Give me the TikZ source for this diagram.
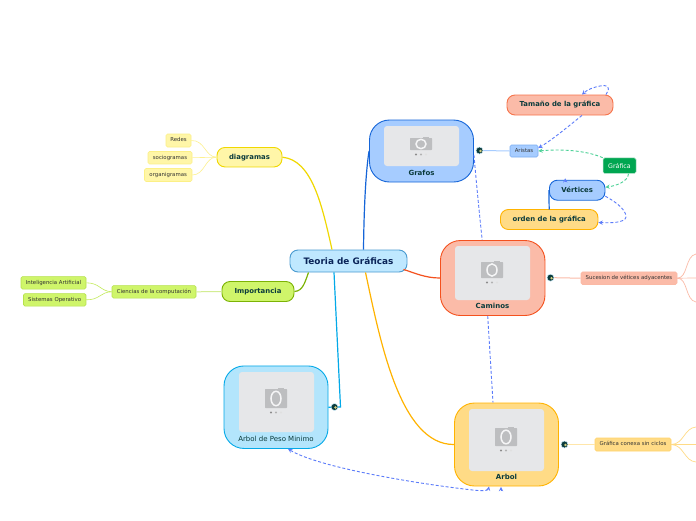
\documentclass[tikz,border=0pt]{standalone}
\usepackage{fontspec}
\setmainfont{DejaVu Sans}

\definecolor{inkdark}{HTML}{0B3B3C}
\definecolor{inknavy}{HTML}{0A2458}
\definecolor{cardgray}{HTML}{E6E7E9}
\definecolor{camgray}{HTML}{BDBEC0}
\definecolor{blueline}{HTML}{1565D8}
\definecolor{bluefill}{HTML}{A6CCFF}
\definecolor{redline}{HTML}{F4511E}
\definecolor{redfill}{HTML}{FBBBA8}
\definecolor{amberline}{HTML}{FFB300}
\definecolor{amberfill}{HTML}{FFDB86}
\definecolor{cyanline}{HTML}{03A9E8}
\definecolor{cyanfill}{HTML}{B3E5FC}
\definecolor{yelline}{HTML}{F0D800}
\definecolor{yelfill}{HTML}{FFF6A8}
\definecolor{limeline}{HTML}{7CB305}
\definecolor{limefill}{HTML}{CFF56A}
\definecolor{rootline}{HTML}{4A9BD0}
\definecolor{rootfill}{HTML}{BFE8FF}
\definecolor{dashblue}{HTML}{5C7CFA}
\definecolor{dashgreen}{HTML}{4CD197}
\definecolor{greenfill}{HTML}{00A651}

\tikzset{
    topicbox/.style={draw, line width=0.9pt, rounded corners=20pt, inner sep=0pt},
    photocard/.style={fill=cardgray, rounded corners=3pt, inner sep=0pt},
    midbox/.style={draw, line width=0.9pt, rounded corners=8pt, inner sep=0pt, text height=5.2pt, text depth=1.4pt, font=\fontsize{6.9}{8}\bfseries, text=inkdark},
    leafbox/.style={draw, line width=0.6pt, rounded corners=1.5pt, inner sep=0pt, text height=4pt, text depth=1.1pt, font=\fontsize{5.4}{6}\selectfont, text=black!80},
    toplabel/.style={inner sep=0pt, font=\fontsize{7}{8}\bfseries, text=inkdark},
    mainline/.style={line width=1.2pt},
    relblue/.style={->, dashblue, line width=0.9pt, dash pattern=on 3pt off 2pt},
    relgreen/.style={->, dashgreen, line width=0.9pt, dash pattern=on 3pt off 2pt},
    globe/.style={circle, fill=inkdark, draw=cyanfill!60, line width=0.5pt, minimum size=7pt, inner sep=0pt,
        path picture={\fill[white!60!olive] (path picture bounding box.center) ++(1,0.5) circle (1.3pt);}}
}

% camera drawn in the middle of a photo card
\newcommand{\camicon}[3]{
    \fill[camgray, rounded corners=0.6pt] (#1-11,#2+1) rectangle (#1+11,#3);
    \fill[camgray] (#1+2,#2) rectangle (#1+8,#2+2);
    \draw[white!85!camgray, line width=1.5pt] (#1,{(#2+#3)/2+0.5}) ellipse (5pt and {(#3-#2)*0.36pt});
    \fill[black!45] (#1-5,#3+4.5) circle (1.2pt);
    \fill[black!30] (#1,#3+4.5) circle (1.2pt);
    \fill[black!12] (#1+5,#3+4.5) circle (1.2pt);
}

\begin{document}
\begin{tikzpicture}[x=1pt, y=-1pt, >=stealth]
    \useasboundingbox[fill=white] (0,0) rectangle (696,520);

    % root and the four photo topics
    \node[draw=rootline, fill=rootfill, line width=0.9pt, rounded corners=8pt, minimum width=117pt, minimum height=22pt, inner sep=0pt, font=\fontsize{8.9}{10}\bfseries, text=inknavy] (teoria) at (348.5,261) {Teoria de Gráficas};

    \node[topicbox, draw=blueline, fill=bluefill, minimum width=104pt, minimum height=62pt] (grafos) at (421.5,151) {};
    \node[photocard, minimum width=75pt, minimum height=40pt] (grafoscard) at (421.5,146) {};
    \camicon{421}{137}{150}
    \node[toplabel] (grafoslabel) at (421.5,172.5) {Grafos};

    \node[topicbox, draw=redline, fill=redfill, minimum width=104.5pt, minimum height=75pt] (caminos) at (492.7,278) {};
    \node[photocard, minimum width=75pt, minimum height=54pt] (caminoscard) at (492.5,273) {};
    \camicon{492}{261}{278}
    \node[toplabel] (caminoslabel) at (492.5,305.5) {Caminos};

    \node[topicbox, draw=amberline, fill=amberfill, minimum width=104pt, minimum height=83pt] (arbol) at (506.5,444.5) {};
    \node[photocard, minimum width=75pt, minimum height=62pt] (arbolcard) at (506.5,440) {};
    \camicon{506}{427}{446}
    \node[toplabel] (arbollabel) at (506.5,476.5) {Arbol};

    \node[topicbox, draw=cyanline, fill=cyanfill, minimum width=104pt, minimum height=82.5pt] (peso) at (276,407.2) {};
    \node[photocard, minimum width=75pt, minimum height=60pt] (pesocard) at (276.5,402) {};
    \camicon{276}{388}{408}
    \node[inner sep=0pt, font=\fontsize{7}{8}\selectfont, text=inkdark] (pesolabel) at (276,438.5) {Arbol de Peso Minimo};

    % left side
    \node[midbox, draw=yelline, fill=yelfill, minimum width=65pt, minimum height=19.5pt] (diagramas) at (249.5,157.2) {diagramas};
    \node[leafbox, draw=yelfill!80!yelline, fill=yelfill, minimum width=25pt, minimum height=13pt] (redes) at (178.5,140.5) {Redes};
    \node[leafbox, draw=yelfill!80!yelline, fill=yelfill, minimum width=44pt, minimum height=12.5pt] (socio) at (170,157.7) {sociogramas};
    \node[leafbox, draw=yelfill!80!yelline, fill=yelfill, minimum width=47.5pt, minimum height=13pt] (organi) at (168.2,175) {organigramas};

    \node[midbox, draw=limeline, fill=limefill, minimum width=72pt, minimum height=20pt] (importancia) at (258,291.5) {Importancia};
    \node[leafbox, draw=limefill!70!limeline, fill=limefill, minimum width=84pt, minimum height=12.5pt] (ciencias) at (154,291.8) {Ciencias de la computación};
    \node[leafbox, draw=limefill!70!limeline, fill=limefill, minimum width=65pt, minimum height=12.5pt] (inteligencia) at (53.5,282.8) {Inteligencia Artificial};
    \node[leafbox, draw=limefill!70!limeline, fill=limefill, minimum width=62.5pt, minimum height=12.5pt] (sistemas) at (54.7,299.8) {Sistemas Operativo};

    % right side
    \node[midbox, draw=redline!80, fill=redfill, minimum width=106pt, minimum height=20pt] (tamano) at (560,105) {Tamaño de la gráfica};
    \node[leafbox, draw=bluefill!70!blueline, fill=bluefill, minimum width=28pt, minimum height=12pt] (aristas) at (524,151) {Aristas};
    \node[draw=greenfill!30, fill=greenfill, line width=0.5pt, rounded corners=1.5pt, minimum width=33pt, minimum height=15.5pt, inner sep=0pt, font=\fontsize{6.3}{7}\selectfont, text=white] (grafica) at (619.5,165.7) {Gráfica};
    \node[midbox, draw=blueline, fill=bluefill, minimum width=55.5pt, minimum height=20pt] (vertices) at (577.2,190.2) {Vértices};
    \node[midbox, draw=amberline, fill=amberfill, minimum width=97.5pt, minimum height=20pt] (orden) at (549.2,219.5) {orden de la gráfica};
    \node[leafbox, draw=redline!40, fill=redfill, minimum width=96pt, minimum height=12.5pt] (sucesion) at (629,278.2) {Sucesion de vétices adyacentes};
    \node[leafbox, draw=amberfill!80!amberline, fill=amberfill, minimum width=76pt, minimum height=13pt] (conexa) at (633,444.5) {Gráfica conexa sin ciclos};

    % main branches
    \draw[yelline, mainline] ([xshift=-16.5pt]teoria.north) .. controls (322,205) and (312,160) .. (diagramas.east);
    \draw[blueline, mainline] ([xshift=15pt]teoria.north) .. controls (364,205) and (366,170) .. (grafos.west);
    \draw[redline, mainline] ([xshift=-4pt,yshift=3pt]teoria.south east) .. controls (415,273) and (425,278) .. (caminos.west);
    \draw[amberline, mainline] ([xshift=17pt]teoria.south) .. controls (380,340) and (400,445) .. (arbol.west);
    \draw[limeline, mainline] ([xshift=-40pt]teoria.south) .. controls (305,282) and (303,291) .. (importancia.east);
    \draw[cyanline, mainline] ([xshift=-14.5pt]teoria.south) -- (340.5,407) -- (peso.east);

    % markers beside the topics
    \node[globe] (globegrafos) at (479.5,150.5) {};
    \node[globe] (globecaminos) at (550.5,277.7) {};
    \node[globe] (globearbol) at (564.5,444.5) {};
    \node[globe] (globepeso) at (334.5,407) {};

    % sub branches
    \draw[yelfill!85!yelline, line width=0.6pt] (diagramas.west) .. controls (205,157) and (205,140) .. (redes.east);
    \draw[yelfill!85!yelline, line width=0.6pt] (diagramas.west) -- (socio.east);
    \draw[yelfill!85!yelline, line width=0.6pt] (diagramas.west) .. controls (205,157) and (205,175) .. (organi.east);
    \draw[limefill!70!limeline!60, line width=1pt] (importancia.west) -- (ciencias.east);
    \draw[limefill!85!limeline, line width=0.6pt] (ciencias.west) .. controls (100,291) and (100,283) .. (inteligencia.east);
    \draw[limefill!85!limeline, line width=0.6pt] (ciencias.west) .. controls (100,292) and (100,300) .. (sistemas.east);
    \draw[bluefill, line width=1pt] (globegrafos.east) -- (aristas.west);
    \draw[redfill, line width=1pt] (globecaminos.east) -- (sucesion.west);
    \draw[amberfill!70, line width=1pt] (globearbol.east) -- (conexa.west);
    \draw[blueline, mainline] (vertices.west) .. controls (549,195) and (549,200) .. (549.2,209.5);

    % branches that run off the right edge
    \coordinate (sucesionup) at (696,254);
    \coordinate (sucesionmid) at (696,278);
    \coordinate (sucesiondown) at (696,302);
    \coordinate (conexaup) at (696,427);
    \coordinate (conexamid) at (696,444.5);
    \coordinate (conexadown) at (696,462);
    \draw[redfill, line width=0.7pt] (sucesion.east) .. controls (688,278) and (685,256) .. (sucesionup);
    \draw[redfill, line width=0.7pt] (sucesion.east) -- (sucesionmid);
    \draw[redfill, line width=0.7pt] (sucesion.east) .. controls (688,278) and (685,300) .. (sucesiondown);
    \draw[amberfill, line width=0.7pt] (conexa.east) .. controls (684,444) and (684,428) .. (conexaup);
    \draw[amberfill, line width=0.7pt] (conexa.east) -- (conexamid);
    \draw[amberfill, line width=0.7pt] (conexa.east) .. controls (684,445) and (684,461) .. (conexadown);

    % dashed relations
    \draw[relblue, -] ([xshift=-5pt]grafos.east) ++(5,4) .. controls (477,190) and (480,220) .. ([xshift=-10.5pt]caminos.north);
    \draw[relblue, -] ([xshift=-5pt]caminos.south) -- ([xshift=-13.5pt]arbol.north);
    \draw[relblue] ([xshift=46pt]tamano.north) .. controls (612,85) and (606,85) .. (600,86) .. controls (595,87) and (588,89) .. ([xshift=22pt]tamano.north);
    \draw[relblue] ([xshift=22pt]tamano.south) .. controls (570,125) and (552,140) .. ([yshift=3pt]aristas.east);
    \draw[relgreen] (grafica.north west) .. controls (585,150) and (560,149) .. (aristas.east);
    \draw[relgreen] ([xshift=9pt]grafica.south) .. controls (628,182) and (615,186) .. ([yshift=3pt]vertices.east);
    \draw[relblue] ([yshift=-6pt]vertices.east) .. controls (612,200) and (626,208) .. (626,217) .. controls (625,223) and (610,223) .. ([yshift=-3pt]orden.east);
    \draw[relblue] ([xshift=-12pt,yshift=-2pt]vertices.north) -- ([xshift=-12pt,yshift=1.5pt]vertices.north);
    \draw[relblue, <->] ([xshift=12pt]peso.south) .. controls (320,468) and (420,484) .. (470,489.7) .. controls (480,491) and (488,491) .. ([xshift=-17.5pt]arbol.south);
    \draw[relblue] ([xshift=-5.5pt,yshift=-4pt]arbol.south) -- ([xshift=-5.5pt,yshift=-0.5pt]arbol.south);
\end{tikzpicture}
\end{document}
